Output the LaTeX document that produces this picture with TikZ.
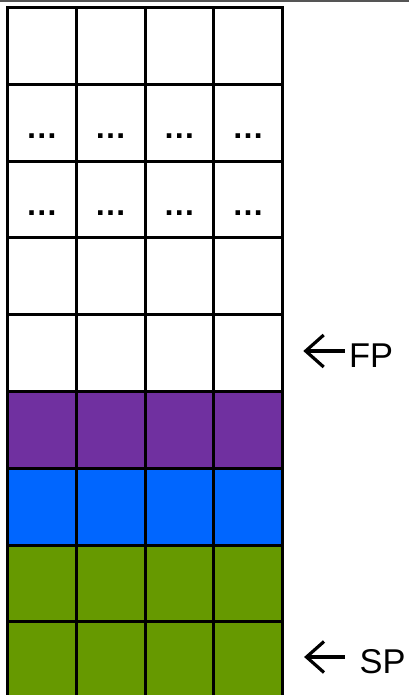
\documentclass[tikz,border=0pt]{standalone}
\usepackage{fontspec}
\setmainfont{Liberation Sans}
\definecolor{cpurple}{HTML}{7030A0}
\definecolor{cblue}{HTML}{0066FF}
\definecolor{cgreen}{HTML}{669900}
\definecolor{topgray}{HTML}{555555}
\begin{document}
\begin{tikzpicture}[x=1pt,y=-1pt,
  cell/.style={draw=black,line width=3pt,minimum width=68.75pt,minimum height=76.8pt,inner sep=0pt,outer sep=0pt},
  dots/.style={font=\fontsize{32}{36}\selectfont\bfseries,anchor=base,inner sep=0pt},
  lbl/.style={font=\fontsize{34.4}{40}\selectfont,anchor=base west,inner sep=0pt},
  ptr/.style={line width=3.2pt}]
\useasboundingbox (0,0) rectangle (409,695);
\fill[topgray] (0,0) rectangle (409,1.8);
\foreach \r/\col in {0/white,1/white,2/white,3/white,4/white,5/cpurple,6/cblue,7/cgreen,8/cgreen}{
  \foreach \c in {0,1,2,3}{
    \node[cell,fill=\col] (cell-\r-\c) at ({7.5+68.75*(\c+0.5)},{7.5+76.8*(\r+0.5)}) {};
  }
}
\foreach \r/\yy in {1/139,2/215.8}{
  \foreach \c in {0,1,2,3}{
    \node[dots] (dots-\r-\c) at ({7.5+68.75*(\c+0.5)},\yy) {…};
  }
}
\node[lbl] (fp) at (349,367.3) {FP};
\node[lbl] (sp) at (359.5,673.5) {SP};
\coordinate (fptip) at (305.7,351);
\coordinate (sptip) at (306.5,657);
\draw[ptr] (fptip) -- ++(39.3,0);
\draw[ptr,line join=miter] ([shift={(18,-16)}]fptip) -- (fptip) -- ([shift={(18,16)}]fptip);
\draw[ptr] (sptip) -- ++(38.5,0);
\draw[ptr,line join=miter] ([shift={(17.5,-15.5)}]sptip) -- (sptip) -- ([shift={(17.5,15.5)}]sptip);
\end{tikzpicture}
\end{document}
